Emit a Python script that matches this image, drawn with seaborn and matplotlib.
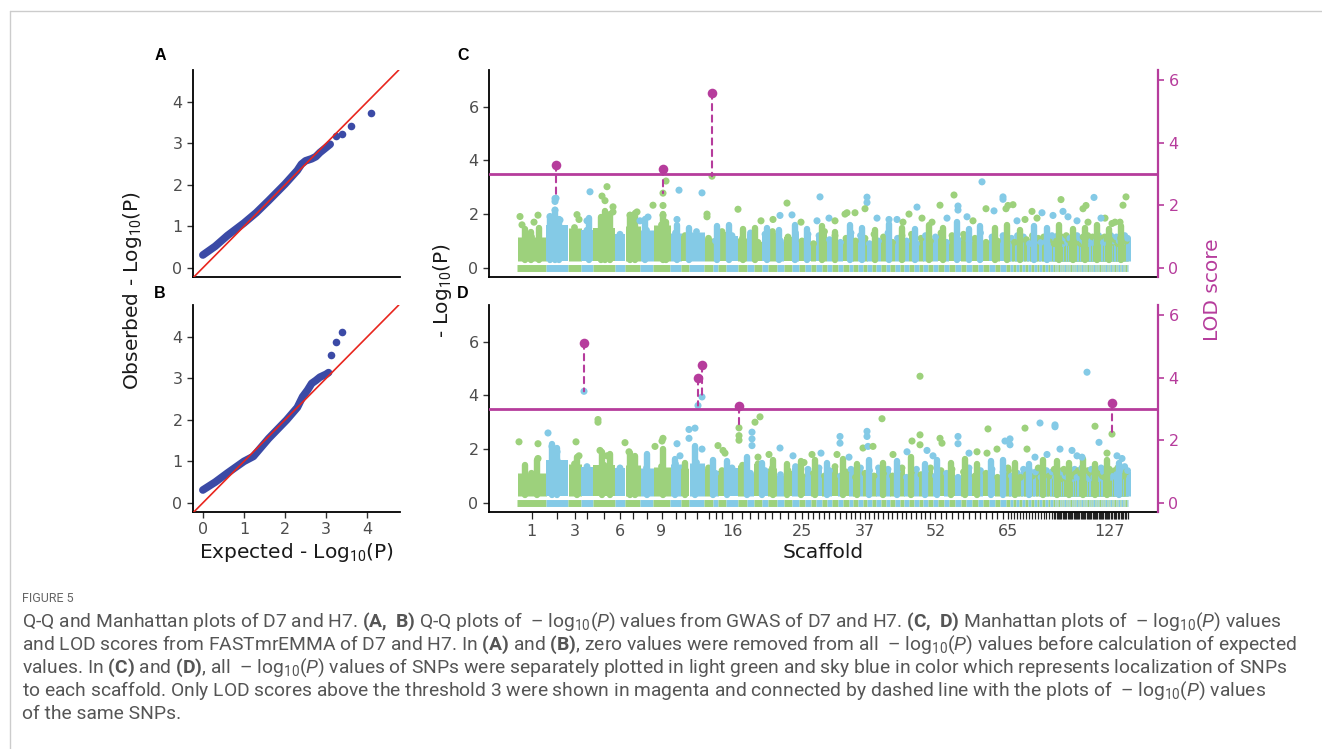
import numpy as np
import pandas as pd
import matplotlib
matplotlib.use("Agg")
import matplotlib.pyplot as plt
import seaborn as sns
from matplotlib.patches import ConnectionPatch
from matplotlib.lines import Line2D

# ---------------- DATA ----------------
# Q-Q panel A (D7): dense curve and tail points (expected, observed)
qqA_exp = [0.0, 0.3, 0.6, 1.0, 1.3, 1.6, 2.0, 2.3, 2.4, 2.5, 2.65, 2.75, 2.85, 3.0, 3.1]
qqA_obs = [0.31, 0.52, 0.78, 1.08, 1.33, 1.62, 2.02, 2.35, 2.5, 2.58, 2.63, 2.68, 2.78, 2.9, 2.98]
qqA_tail_exp = [3.24, 3.38, 3.6, 4.1]
qqA_tail_obs = [3.19, 3.22, 3.42, 3.73]
# Q-Q panel B (H7)
qqB_exp = [0.0, 0.3, 0.6, 1.0, 1.23, 1.6, 2.04, 2.3, 2.43, 2.55, 2.65, 2.75, 2.85, 3.0, 3.06]
qqB_obs = [0.31, 0.5, 0.72, 1.0, 1.12, 1.55, 2.0, 2.3, 2.56, 2.72, 2.88, 2.95, 3.03, 3.1, 3.14]
qqB_tail_exp = [3.11, 3.24, 3.38]
qqB_tail_obs = [3.57, 3.89, 4.11]

# Scaffold lengths (relative genomic length, in scaffold order 1..140)
scaffold_len = [29, 22, 13, 12, 22, 10, 15, 13, 17, 11, 8, 15, 9, 5, 8, 12,
                9, 7, 8, 6, 9, 7, 8, 7, 6,
                6, 5, 6, 5, 5, 6, 5, 6, 4, 5, 5, 4,
                5, 4, 5, 5, 4, 5, 5, 4, 5, 5, 5, 4, 5, 5, 5,
                6, 5, 6, 6, 5, 6, 6, 5, 6, 6, 5, 6, 4,
                3, 3, 3, 3, 3, 3, 3, 3, 3, 2.5, 3, 2.5, 3, 2.5, 3,
                1.3, 1.2, 1.2, 1.3, 1.1, 1.2, 1.3, 1.2, 1.1, 1.2,
                1.3, 1.2, 1.2, 1.1, 1.3, 1.2, 1.2, 1.1, 1.2, 1.3,
                1.2, 1.1, 1.2, 1.3, 1.2, 1.2, 1.1, 1.2, 1.3, 1.2,
                1.2, 1.1, 1.2, 1.3, 1.2, 1.1, 1.2, 1.2, 1.3, 1.2,
                1.1, 1.2, 1.2, 1.3, 1.2, 1.1, 1.3,
                1.4, 1.3, 1.5, 1.4, 1.4, 1.3, 1.5, 1.4, 1.4, 1.3, 1.4, 1.5, 1.4]
labelled_scaffolds = [1, 3, 6, 9, 16, 25, 37, 52, 65, 127]

# Dense-body top of -log10(P) per scaffold
bodyC = [1.15, 1.6, 1.5, 1.4, 1.5, 1.25, 1.55, 1.4, 1.6, 1.3,
         1.2, 1.35, 1.1, 1.0, 1.35, 1.2, 1.1, 1.3, 0.95, 1.25,
         1.35, 1.0, 1.15, 1.3, 1.0, 1.25, 0.9, 1.2, 1.35, 1.05,
         1.2, 0.95, 1.1, 1.3, 1.0, 1.2, 1.1, 0.9, 1.25, 1.0,
         1.15, 1.3, 0.95, 1.1, 1.2, 1.0, 1.25, 0.9, 1.1, 1.2,
         1.0, 1.15, 1.3, 0.95, 1.2, 1.05, 1.25, 1.0, 1.1, 1.3,
         0.95, 1.15, 1.0, 1.2, 1.05, 1.1, 0.95, 1.2, 1.0, 1.15,
         1.05, 0.9, 1.2, 1.0, 1.1, 0.95, 1.15, 1.0, 1.05, 1.2,
         0.9, 1.1, 1.0, 1.2, 0.95, 1.05, 1.15, 0.9, 1.0, 1.1,
         1.2, 0.95, 1.05, 1.1, 0.9, 1.15, 1.0, 1.05, 0.95, 1.2,
         1.0, 1.1, 0.9, 1.05, 1.15, 0.95, 1.0, 1.1, 1.2, 0.9,
         1.05, 1.0, 1.15, 0.95, 1.1, 1.0, 0.9, 1.2, 1.05, 1.0,
         1.1, 0.95, 1.15, 1.0, 1.05, 0.9, 1.1, 1.2, 0.95, 1.0,
         1.05, 1.15, 0.9, 1.0, 1.1, 0.95, 1.05, 1.2, 1.0, 1.1]
bodyD = [1.1, 1.6, 1.45, 1.35, 1.4, 1.3, 1.4, 1.3, 1.35, 1.45,
         1.25, 1.5, 1.3, 1.1, 1.2, 1.3, 1.4, 1.1, 1.45, 1.2,
         1.3, 1.05, 1.2, 1.35, 1.0, 1.25, 1.1, 1.3, 1.0, 1.2,
         1.35, 1.0, 1.15, 1.25, 0.95, 1.3, 1.1, 1.2, 1.0, 1.3,
         1.1, 1.25, 1.0, 1.2, 1.3, 0.95, 1.15, 1.25, 1.05, 1.2,
         1.3, 1.0, 1.2, 1.1, 1.25, 0.95, 1.15, 1.3, 1.0, 1.2,
         1.1, 1.25, 0.95, 1.15, 1.3, 1.0, 1.2, 1.1, 0.95, 1.25,
         1.05, 1.2, 1.0, 1.15, 1.3, 0.95, 1.1, 1.2, 1.0, 1.15,
         1.25, 0.95, 1.1, 1.0, 1.2, 1.05, 0.9, 1.15, 1.25, 1.0,
         1.1, 0.95, 1.2, 1.05, 1.15, 0.9, 1.0, 1.25, 1.1, 0.95,
         1.2, 1.0, 1.1, 1.3, 0.95, 1.05, 1.15, 1.0, 1.2, 0.9,
         1.1, 1.25, 1.0, 0.95, 1.15, 1.05, 1.2, 0.9, 1.1, 1.3,
         1.0, 1.15, 0.95, 1.2, 1.05, 1.1, 1.25, 0.95, 1.15, 1.0,
         1.2, 1.05, 1.3, 0.95, 1.1, 1.2, 1.0, 1.35, 1.15, 1.2]

# Stacked SNP columns (position, top -log10P)
spikeC_pos = [8, 14, 22, 33, 38, 42, 84, 88, 93, 113, 118, 146, 149, 72, 128,
              160, 172, 200, 212, 226, 238, 250, 262, 278, 290, 305, 318, 333, 345,
              358, 372, 385, 398, 412, 426, 440, 452, 463, 478, 490, 503, 517, 530,
              542, 556, 568, 580, 592, 604]
spikeC_top = [1.45, 1.35, 1.5, 1.9, 2.15, 1.8, 1.9, 2.1, 2.0, 1.95, 2.05, 2.0, 1.7, 1.85, 1.8,
              1.6, 1.5, 1.55, 1.6, 1.45, 1.5, 1.5, 1.4, 1.6, 1.45, 1.55, 1.35, 1.6, 1.5,
              1.4, 1.65, 1.5, 1.45, 1.6, 1.5, 1.7, 1.45, 1.55, 1.5, 1.6, 1.4, 1.55, 1.5,
              1.6, 1.45, 1.5, 1.6, 1.45, 1.55]
spikeD_pos = [8, 20, 35, 40, 85, 93, 113, 118, 146, 178, 60, 130,
              158, 168, 196, 210, 230, 245, 256, 270, 284, 298, 310, 326, 340, 352,
              366, 380, 394, 408, 420, 434, 448, 460, 474, 486, 498, 512, 526, 540,
              552, 566, 578, 590, 602]
spikeD_top = [1.4, 1.6, 2.2, 2.05, 1.9, 1.8, 1.85, 1.75, 2.0, 2.1, 1.7, 1.8,
              1.65, 1.5, 1.6, 1.55, 1.7, 1.5, 1.6, 1.45, 1.55, 1.6, 1.5, 1.65, 1.45, 1.6,
              1.5, 1.55, 1.7, 1.45, 1.6, 1.5, 1.65, 1.45, 1.55, 1.6, 1.5, 1.45, 1.6, 1.55,
              1.5, 1.65, 1.45, 1.6, 1.5]

# Isolated SNPs (position, -log10P)
dotC_pos = [3, 5, 21, 17, 38, 38, 38, 33, 43, 60, 62, 73, 70, 85, 90, 88, 96, 96, 113, 120,
            123, 136, 131, 149, 146, 146, 146, 162, 160, 185, 190, 190, 221, 270, 263, 275,
            303, 300, 350, 350, 348, 330, 338, 328, 360, 437, 423, 400, 392, 441, 441, 465,
            469, 477, 489, 491, 496, 486, 486, 515, 525, 536, 546, 544, 551, 566, 569, 577,
            571, 588, 609, 606, 380, 405, 415, 450, 430, 500, 520, 560, 595, 603, 39, 195,
            244, 256, 284, 312, 318, 372, 386, 456, 508, 584, 598]
dotC_y = [1.91, 1.6, 1.96, 1.7, 2.58, 2.47, 2.15, 1.91, 1.78, 1.98, 1.8, 2.83, 1.75, 2.67,
          3.02, 2.5, 2.27, 2.08, 1.96, 2.08, 1.75, 2.33, 1.89, 3.23, 2.78, 2.32, 1.96, 2.89,
          1.8, 2.79, 2.0, 1.9, 2.18, 2.41, 1.95, 1.97, 2.64, 1.75, 2.63, 2.43, 2.2, 2.05,
          2.05, 2.0, 1.85, 2.71, 2.33, 2.26, 2.0, 2.3, 2.15, 3.2, 2.2, 2.12, 2.2, 2.32, 2.35,
          2.64, 2.55, 2.1, 2.05, 1.95, 2.1, 2.54, 1.9, 2.2, 2.32, 2.62, 1.7, 1.85, 2.64,
          2.33, 1.8, 1.85, 1.7, 1.9, 1.85, 1.75, 1.85, 1.75, 1.65, 1.7, 2.59, 3.41,
          1.75, 1.8, 1.7, 1.85, 1.75, 1.8, 1.7, 1.75, 1.8, 1.85, 1.7]
dotD_pos = [2, 21, 21, 31, 35, 40, 59, 62, 67, 81, 81, 83, 90, 108, 112, 138, 146, 145, 160,
            163, 172, 172, 178, 181, 185, 185, 201, 206, 208, 222, 222, 222, 235, 235, 235,
            238, 243, 241, 263, 295, 287, 323, 323, 320, 346, 350, 350, 351, 356, 365, 403,
            403, 403, 395, 423, 425, 441, 441, 410, 390, 460, 470, 471, 480, 493, 493, 488,
            508, 510, 523, 538, 538, 543, 555, 565, 570, 578, 582, 595, 590, 600, 605,
            252, 276, 304, 332, 376, 416, 452, 518, 530, 560]
dotD_y = [2.27, 2.2, 1.65, 2.6, 2.1, 1.9, 2.27, 1.75, 4.15, 3.1, 3.0, 1.95, 1.75, 2.24, 1.9,
          2.1, 2.4, 2.3, 2.2, 1.75, 2.73, 2.4, 2.78, 3.62, 3.94, 2.0, 2.13, 1.95, 1.85, 2.79,
          2.5, 2.33, 2.63, 2.38, 2.13, 3.0, 3.2, 1.7, 2.04, 1.8, 1.5, 2.47, 2.22, 1.8, 2.04,
          2.66, 2.47, 2.1, 2.1, 3.13, 4.71, 2.53, 2.16, 2.3, 2.4, 2.22, 2.47, 2.2, 1.95, 1.9,
          1.9, 1.85, 2.75, 2.0, 2.38, 2.16, 2.3, 2.78, 2.0, 2.97, 2.9, 2.83, 2.0, 1.95, 1.7,
          4.86, 2.85, 2.25, 2.56, 1.85, 1.75, 1.65,
          1.8, 1.75, 1.85, 1.7, 1.8, 1.75, 1.85, 1.7, 1.8, 1.75]

# FASTmrEMMA LOD scores above threshold (position, LOD, -log10P of the same SNP)
lodC_pos = [39, 146, 195]
lodC_score = [3.30, 3.17, 5.6]
lodC_p = [2.59, 2.78, 3.41]
lodD_pos = [67, 181, 185, 222, 595]
lodD_score = [5.12, 3.98, 4.39, 3.08, 3.2]
lodD_p = [4.15, 3.62, 3.94, 2.79, 2.56]
lod_threshold = 3

# ---------------- STYLE ----------------
sns.set_theme(style="white")
plt.rcParams['font.family'] = ['DejaVu Sans']
plt.rcParams['mathtext.fontset'] = 'custom'
plt.rcParams['mathtext.rm'] = 'Roboto'
plt.rcParams['mathtext.it'] = 'Roboto:italic'
plt.rcParams['mathtext.bf'] = 'Roboto:bold'

GREEN = "#9dd17c"
BLUE = "#84cae6"
MAGENTA = "#b63c9c"
QQBLUE = "#3b4aa6"
RED = "#e8261e"
TICKC = "#4d4d4d"

W, H = 1322, 749
fig = plt.figure(figsize=(W / 100, H / 100), dpi=100)


def rect(l, t, r, b):
    return [l / W, 1 - b / H, (r - l) / W, (b - t) / H]


axA = fig.add_axes(rect(193, 70, 400, 277))
axB = fig.add_axes(rect(193, 305, 400, 512))
axC = fig.add_axes(rect(489, 70, 1158, 277))
axD = fig.add_axes(rect(489, 305, 1158, 512))


def style_axis(ax):
    for s in ["top", "right"]:
        ax.spines[s].set_visible(False)
    for s in ["left", "bottom"]:
        ax.spines[s].set_color("black")
        ax.spines[s].set_linewidth(1.3)
    ax.tick_params(axis="both", colors="#333333", labelcolor=TICKC, labelsize=11.5,
                   length=4, width=1.0, direction="out", left=True, bottom=True)


def qq(ax, exp, obs, texp, tobs, show_x):
    sns.lineplot(x=exp, y=obs, ax=ax, color=QQBLUE, lw=5.5, sort=False,
                 estimator=None, solid_capstyle="round")
    sns.scatterplot(x=texp, y=tobs, ax=ax, color=QQBLUE, s=30, linewidth=0)
    ax.axline((0, 0), slope=1, color=RED, lw=1.2, zorder=5)
    ax.set_xlim(-0.24, 4.8)
    ax.set_ylim(-0.22, 4.77)
    style_axis(ax)
    ax.set_yticks([0, 1, 2, 3, 4])
    if show_x:
        ax.set_xticks([0, 1, 2, 3, 4])
    else:
        ax.set_xticks([])
    ax.set_xlabel("")
    ax.set_ylabel("")


qq(axA, qqA_exp, qqA_obs, qqA_tail_exp, qqA_tail_obs, False)
qq(axB, qqB_exp, qqB_obs, qqB_tail_exp, qqB_tail_obs, True)

lengths = np.array(scaffold_len, dtype=float)
N = len(lengths)
ends = np.cumsum(lengths)
starts = ends - lengths
centers = starts + lengths / 2
names = np.arange(1, N + 1)
scaf_cols = [GREEN if i % 2 == 0 else BLUE for i in range(N)]
XMIN, XMAX = -28, 641
px_per_unit = 669 / (XMAX - XMIN)


def col_of(pos):
    idx = np.clip(np.searchsorted(ends, pos, side="right"), 0, N - 1)
    return ["g" if i % 2 == 0 else "b" for i in idx]


def manhattan(ax, body, spos, stop, dpos, dy, lpos, lscore, lp, show_x):
    sc = {"g": GREEN, "b": BLUE}
    lw = np.maximum(lengths * px_per_unit, 5.0) * 0.72
    ax.hlines(np.zeros(N), starts, ends, colors=scaf_cols, linewidths=5.0, capstyle="butt")
    ax.vlines(centers, 0.26, body, colors=scaf_cols, linewidths=lw, capstyle="butt")
    # rounded tops of the dense SNP stacks
    dft = pd.DataFrame({"pos": centers, "y": body, "grp": col_of(centers)})
    sns.scatterplot(data=dft, x="pos", y="y", hue="grp", palette=sc, s=24, linewidth=0,
                    legend=False, ax=ax, zorder=2)
    ax.vlines(spos, 0.3, stop, colors=[sc[c] for c in col_of(spos)], linewidths=4.6,
              capstyle="round", zorder=2)
    dfd = pd.DataFrame({"pos": dpos, "y": dy, "grp": col_of(dpos)})
    sns.scatterplot(data=dfd, x="pos", y="y", hue="grp", palette=sc, s=26, linewidth=0,
                    legend=False, ax=ax, zorder=3)
    ax.set_xlim(XMIN, XMAX)
    ax.set_ylim(-0.34, 7.36)
    style_axis(ax)
    ax.set_yticks([0, 2, 4, 6])
    if show_x:
        ax.set_xticks(centers)
        ax.set_xticklabels([str(n) if n in labelled_scaffolds else "" for n in names])
        ax.tick_params(axis="x", length=5, width=0.9, colors="#222222", labelcolor=TICKC)
    else:
        ax.set_xticks([])
    ax.set_xlabel("")
    ax.set_ylabel("")

    ax2 = ax.twinx()
    ax2.set_ylim(-0.29, 6.32)
    ax2.axhline(lod_threshold, color=MAGENTA, lw=2.0, zorder=2)
    for x, l, p in zip(lpos, lscore, lp):
        con = ConnectionPatch(xyA=(x, l), coordsA=ax2.transData, xyB=(x, p),
                              coordsB=ax.transData, color=MAGENTA, lw=1.5,
                              linestyle=(0, (3, 2.5)))
        ax2.add_artist(con)
    sns.scatterplot(x=lpos, y=lscore, color=MAGENTA, s=48, linewidth=0, ax=ax2, zorder=6)
    for s in ["top", "left", "bottom"]:
        ax2.spines[s].set_visible(False)
    ax2.spines["right"].set_color(MAGENTA)
    ax2.spines["right"].set_linewidth(1.6)
    ax2.set_yticks([0, 2, 4, 6])
    ax2.tick_params(axis="y", colors=MAGENTA, labelcolor=MAGENTA, labelsize=11.5,
                    length=4, width=1.2, right=True)
    ax2.set_ylabel("")
    ax2.set_xlim(XMIN, XMAX)


manhattan(axC, bodyC, spikeC_pos, spikeC_top, dotC_pos, dotC_y,
          lodC_pos, lodC_score, lodC_p, False)
manhattan(axD, bodyD, spikeD_pos, spikeD_top, dotD_pos, dotD_y,
          lodD_pos, lodD_score, lodD_p, True)

# axis titles
fig.text(133 / W, 1 - 291 / H, "Obserbed - Log$_{10}$(P)", rotation=90, ha="center",
         va="center", fontsize=14.5, color="#1a1a1a")
fig.text(296.5 / W, 1 - 553 / H, "Expected - Log$_{10}$(P)", ha="center", va="center",
         fontsize=14.5, color="#1a1a1a")
fig.text(443 / W, 1 - 291 / H, "- Log$_{10}$(P)", rotation=90, ha="center", va="center",
         fontsize=14.5, color="#1a1a1a")
fig.text(823.5 / W, 1 - 553 / H, "Scaffold", ha="center", va="center", fontsize=14.5,
         color="#1a1a1a")
fig.text(1212 / W, 1 - 290 / H, "LOD score", rotation=90, ha="center", va="center",
         fontsize=14.5, color=MAGENTA)

# panel letters
for lab, x, y in [("A", 160, 55), ("B", 160, 293), ("C", 463, 55), ("D", 463, 293)]:
    fig.text(x / W, 1 - y / H, lab, ha="center", va="center", fontsize=11.5,
             fontweight="bold", family="Liberation Sans", color="black")

# frame
fig.add_artist(Line2D([10 / W, 10 / W], [0, 1 - 11 / H], color="#cccccc", lw=1.0))
fig.add_artist(Line2D([10 / W, 1], [1 - 11 / H, 1 - 11 / H], color="#cccccc", lw=1.0))

# caption
CAP = "#555555"
fig.text(22 / W, 1 - 598 / H, "FIGURE 5", ha="left", va="center", fontsize=9,
         family="Roboto", color="#666666")
lines = [
    r"Q-Q and Manhattan plots of D7 and H7. $\mathbf{(A,\ B)}$ Q-Q plots of  – log$_{10}$($\mathit{P}$) values from GWAS of D7 and H7. $\mathbf{(C,\ D)}$ Manhattan plots of  – log$_{10}$($\mathit{P}$) values",
    r"and LOD scores from FASTmrEMMA of D7 and H7. In $\mathbf{(A)}$ and $\mathbf{(B)}$, zero values were removed from all  – log$_{10}$($\mathit{P}$) values before calculation of expected",
    r"values. In $\mathbf{(C)}$ and $\mathbf{(D)}$, all  – log$_{10}$($\mathit{P}$) values of SNPs were separately plotted in light green and sky blue in color which represents localization of SNPs",
    r"to each scaffold. Only LOD scores above the threshold 3 were shown in magenta and connected by dashed line with the plots of  – log$_{10}$($\mathit{P}$) values",
    r"of the same SNPs.",
]
for i, t in enumerate(lines):
    fig.text(22 / W, 1 - (622 + 23 * i) / H, t, ha="left", va="center", fontsize=13.9,
             family="Roboto", color=CAP)

fig.savefig("out.png", dpi=100)
